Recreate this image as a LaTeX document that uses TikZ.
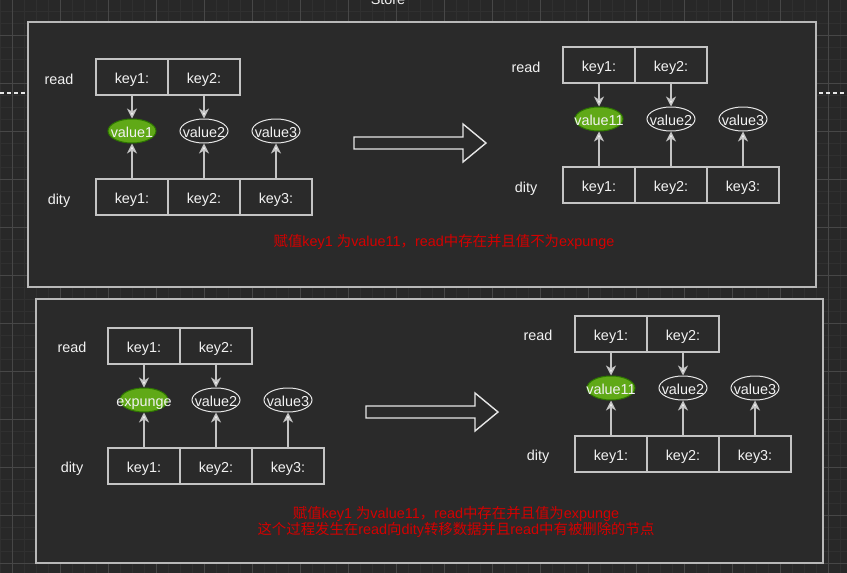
\documentclass[tikz,border=0pt]{standalone}
\usepackage{fontspec}
\setmainfont{Liberation Sans}
\newfontfamily\cjk{Noto Sans CJK SC}
\usetikzlibrary{shapes.geometric, arrows.meta}
\definecolor{canvas}{HTML}{282828}
\definecolor{minorline}{HTML}{303030}
\definecolor{majorline}{HTML}{474747}
\definecolor{panelfill}{HTML}{2A2A2A}
\definecolor{panelline}{HTML}{B8B8B8}
\definecolor{boxline}{HTML}{C4C4C4}
\definecolor{ovalline}{HTML}{E6E6E6}
\definecolor{fg}{HTML}{F2F2F2}
\definecolor{greenfill}{HTML}{60A917}
\definecolor{greenline}{HTML}{2D7600}
\definecolor{note}{HTML}{D40000}
\newcommand{\inoval}[1]{\makebox[0pt]{#1}}
\tikzset{
  key box/.style={
    draw=boxline,
    line width=1.3pt,
    minimum width=72pt,
    minimum height=36pt,
    inner sep=0pt,
    text=fg,
    text height=12.5pt,
    text depth=0.5pt,
  },
  value oval/.style={
    ellipse,
    draw=ovalline,
    line width=1pt,
    minimum width=48pt,
    minimum height=24pt,
    inner sep=0pt,
    text=fg,
    text height=12.5pt,
    text depth=0.5pt,
  },
  hit oval/.style={
    value oval,
    draw=greenline,
    fill=greenfill,
  },
  side label/.style={
    text=fg,
    text height=12.5pt,
    text depth=0.5pt,
  },
  link/.style={
    draw=boxline,
    line width=1.3pt,
    -{Stealth[length=10pt, width=10pt, inset=3pt, fill=fg]},
  },
  panel/.style={
    draw=panelline,
    fill=panelfill,
    line width=1.8pt,
  },
  big arrow/.style={
    draw=ovalline,
    fill=panelfill,
    line width=1.4pt,
    line join=miter,
  },
  note text/.style={
    text=note,
    align=center,
  },
}

\begin{document}
\begin{tikzpicture}[x=1pt, y=-1pt, font=\fontsize{14.4}{16.6}\selectfont]
      \useasboundingbox (0,0) rectangle (847,573);
      % canvas and grid
      \fill[canvas] (0,0) rectangle (847,573);
      \foreach \gx in {0,12,...,840} \draw[minorline, line width=0.8pt] (\gx,0) -- (\gx,573);
      \foreach \gy in {11,23,...,563} \draw[minorline, line width=0.8pt] (0,\gy) -- (847,\gy);
      \foreach \gx in {12,60,...,828} \draw[majorline, line width=0.8pt] (\gx,0) -- (\gx,573);
      \foreach \gy in {35,83,...,563} \draw[majorline, line width=0.8pt] (0,\gy) -- (847,\gy);
      \draw[ovalline, line width=1.2pt, dash pattern=on 4pt off 3pt] (0,93) -- (847,93);
      \node[text=fg, anchor=base] (store) at (388,4.5) {Store};

      % panels
      \draw[panel] (28,22) rectangle (816,287);
      \draw[panel] (36,299) rectangle (823,563);

      % panel 1, before
      \node[side label] (readA) at (59,78) {read};
      \node[key box] (rA1) at (132,77) {key1:};
      \node[key box] (rA2) at (204,77) {key2:};
      \node[hit oval] (vA1) at (132,131) {\inoval{value1}};
      \node[value oval] (vA2) at (204,131) {\inoval{value2}};
      \node[value oval] (vA3) at (276,131) {\inoval{value3}};
      \node[side label] (dityA) at (59,198) {dity};
      \node[key box] (dA1) at (132,197) {key1:};
      \node[key box] (dA2) at (204,197) {key2:};
      \node[key box] (dA3) at (276,197) {key3:};

      \draw[link] (rA1) -- (vA1);
      \draw[link] (rA2) -- (vA2);
      \draw[link] (dA1) -- (vA1);
      \draw[link] (dA2) -- (vA2);
      \draw[link] (dA3) -- (vA3);

      \draw[big arrow] (354,137) -- (463,137) -- (463,124) -- (486,143)
        -- (463,162) -- (463,149) -- (354,149) -- cycle;

      % panel 1, after
      \node[side label] (readB) at (526,66) {read};
      \node[key box] (rB1) at (599,65) {key1:};
      \node[key box] (rB2) at (671,65) {key2:};
      \node[hit oval] (vB1) at (599,119) {\inoval{value11}};
      \node[value oval] (vB2) at (671,119) {\inoval{value2}};
      \node[value oval] (vB3) at (743,119) {\inoval{value3}};
      \node[side label] (dityB) at (526,186) {dity};
      \node[key box] (dB1) at (599,185) {key1:};
      \node[key box] (dB2) at (671,185) {key2:};
      \node[key box] (dB3) at (743,185) {key3:};

      \draw[link] (rB1) -- (vB1);
      \draw[link] (rB2) -- (vB2);
      \draw[link] (dB1) -- (vB1);
      \draw[link] (dB2) -- (vB2);
      \draw[link] (dB3) -- (vB3);

      \node[note text] (noteA) at (444,242)
        {{\cjk 赋值}key1 {\cjk 为}value11{\cjk ，}read{\cjk 中存在并且值不为}expunge};

      % panel 2, before
      \node[side label] (readC) at (72,346) {read};
      \node[key box] (rC1) at (144,346) {key1:};
      \node[key box] (rC2) at (216,346) {key2:};
      \node[hit oval] (vC1) at (144,400) {\inoval{expunge}};
      \node[value oval] (vC2) at (216,400) {\inoval{value2}};
      \node[value oval] (vC3) at (288,400) {\inoval{value3}};
      \node[side label] (dityC) at (72,466) {dity};
      \node[key box] (dC1) at (144,466) {key1:};
      \node[key box] (dC2) at (216,466) {key2:};
      \node[key box] (dC3) at (288,466) {key3:};

      \draw[link] (rC1) -- (vC1);
      \draw[link] (rC2) -- (vC2);
      \draw[link] (dC1) -- (vC1);
      \draw[link] (dC2) -- (vC2);
      \draw[link] (dC3) -- (vC3);

      \draw[big arrow] (366,406) -- (475,406) -- (475,393) -- (498,412)
        -- (475,431) -- (475,418) -- (366,418) -- cycle;

      % panel 2, after
      \node[side label] (readD) at (538,334) {read};
      \node[key box] (rD1) at (611,334) {key1:};
      \node[key box] (rD2) at (683,334) {key2:};
      \node[hit oval] (vD1) at (611,388) {\inoval{value11}};
      \node[value oval] (vD2) at (683,388) {\inoval{value2}};
      \node[value oval] (vD3) at (755,388) {\inoval{value3}};
      \node[side label] (dityD) at (538,454) {dity};
      \node[key box] (dD1) at (611,454) {key1:};
      \node[key box] (dD2) at (683,454) {key2:};
      \node[key box] (dD3) at (755,454) {key3:};

      \draw[link] (rD1) -- (vD1);
      \draw[link] (rD2) -- (vD2);
      \draw[link] (dD1) -- (vD1);
      \draw[link] (dD2) -- (vD2);
      \draw[link] (dD3) -- (vD3);

      \node[note text] (noteC) at (456,522)
        {{\cjk 赋值}key1 {\cjk 为}value11{\cjk ，}read{\cjk 中存在并且值为}expunge\\
         {\cjk 这个过程发生在}read{\cjk 向}dity{\cjk 转移数据并且}read{\cjk 中有被删除的节点}};
    \end{tikzpicture}
\end{document}
